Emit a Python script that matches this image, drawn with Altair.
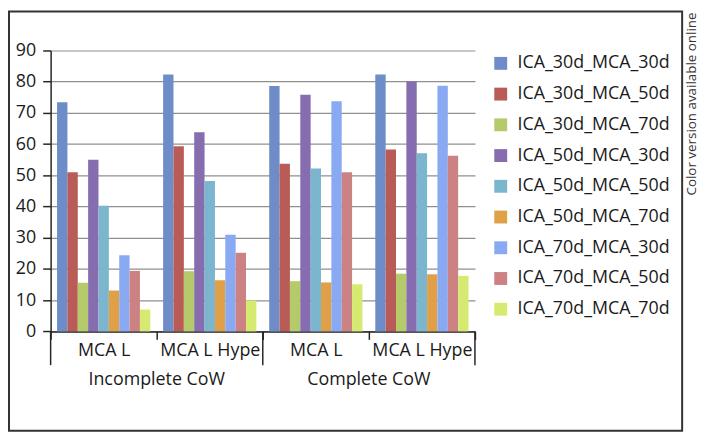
import altair as alt
import pandas as pd

# ---- data ----
outer_groups = ["Incomplete CoW", "Incomplete CoW", "Complete CoW", "Complete CoW"]
inner_groups = ["MCA L", "MCA L Hype", "MCA L", "MCA L Hype"]

series_names = [
    "ICA_30d_MCA_30d", "ICA_30d_MCA_50d", "ICA_30d_MCA_70d",
    "ICA_50d_MCA_30d", "ICA_50d_MCA_50d", "ICA_50d_MCA_70d",
    "ICA_70d_MCA_30d", "ICA_70d_MCA_50d", "ICA_70d_MCA_70d",
]

ica30_mca30 = [73.4, 82.3, 78.6, 82.3]
ica30_mca50 = [51.0, 59.3, 53.7, 58.3]
ica30_mca70 = [15.6, 19.3, 16.1, 18.5]
ica50_mca30 = [55.0, 63.8, 75.8, 80.1]
ica50_mca50 = [40.3, 48.2, 52.2, 57.1]
ica50_mca70 = [13.1, 16.4, 15.7, 18.3]
ica70_mca30 = [24.4, 31.0, 73.7, 78.7]
ica70_mca50 = [19.4, 25.2, 51.0, 56.3]
ica70_mca70 = [7.0, 9.9, 15.1, 17.8]

series_values = [ica30_mca30, ica30_mca50, ica30_mca70,
                 ica50_mca30, ica50_mca50, ica50_mca70,
                 ica70_mca30, ica70_mca50, ica70_mca70]

colors = ["#6d8cc8", "#b95c57", "#b4ca6b", "#866db0", "#7bb5ce",
          "#e0a048", "#89aaf2", "#cc8282", "#d6ea72"]

y_ticks = list(range(0, 91, 10))
side_note = "Color version available online"

# ---- tables ----
rows = []
for s, vals in zip(series_names, series_values):
    for o, i, v in zip(outer_groups, inner_groups, vals):
        rows.append({"key": f"{o}|{i}", "outer": o, "inner": i, "series": s, "value": v})
df = pd.DataFrame(rows)
keys = [f"{o}|{i}" for o, i in zip(outer_groups, inner_groups)]
outer_unique = list(dict.fromkeys(outer_groups))

W, H = 428, 283.4
FONT = "Open Sans"
DARK = "#262626"

bars = alt.Chart(df).mark_bar().encode(
    x=alt.X("key:N", sort=keys,
            scale=alt.Scale(paddingInner=0, paddingOuter=0),
            axis=alt.Axis(title=None, labelExpr="split(datum.label, '|')[1]",
                          labelAngle=0, tickBand="extent", tickSize=8,
                          tickColor=DARK, tickWidth=1.5, domainColor=DARK,
                          domainWidth=1.5, labelFontSize=18, labelFont=FONT,
                          labelColor="#1a1a1a", labelPadding=2, grid=False,
                          labelOverlap=False)),
    xOffset=alt.XOffset("series:N", sort=series_names,
                        scale=alt.Scale(paddingOuter=0.62, paddingInner=0)),
    y=alt.Y("value:Q", scale=alt.Scale(domain=[0, 90], nice=False),
            axis=alt.Axis(title=None, values=y_ticks, grid=True,
                          gridColor="#8f8f8f", gridWidth=1.2,
                          domainColor=DARK, domainWidth=1.5,
                          tickColor=DARK, tickWidth=1.5, tickSize=8,
                          labelFontSize=18, labelFont=FONT, labelColor="#1a1a1a",
                          labelPadding=7)),
    color=alt.Color("series:N", sort=series_names,
                    scale=alt.Scale(domain=series_names, range=colors),
                    legend=alt.Legend(orient="none", legendX=445, legendY=4,
                                      title=None, symbolType="square",
                                      symbolSize=169, symbolStrokeWidth=0,
                                      labelFontSize=18, labelFont=FONT,
                                      labelColor="#1a1a1a", rowPadding=13,
                                      labelOffset=8, padding=0)),
)

outer_text = alt.Chart(pd.DataFrame({"outer": outer_unique})).mark_text(
    fontSize=18, font=FONT, baseline="middle", color="#1a1a1a"
).encode(
    x=alt.X("outer:N", sort=outer_unique, axis=None,
            scale=alt.Scale(paddingInner=0, paddingOuter=0)),
    y=alt.value(H + 49.3),
    text="outer:N",
)

seps = alt.Chart(pd.DataFrame({"pos": list(range(len(outer_unique) + 1))})).mark_rule(
    color=DARK, strokeWidth=1.5
).encode(
    x=alt.X("pos:Q", axis=None,
            scale=alt.Scale(domain=[0, len(outer_unique)], nice=False, zero=False)),
    y=alt.value(H),
    y2=alt.value(H + 34),
)

frame = alt.Chart(pd.DataFrame({"a": [0]})).mark_rect(
    fillOpacity=0, stroke="#333333", strokeWidth=2
).encode(
    x=alt.value(-42), x2=alt.value(637),
    y=alt.value(-39.3), y2=alt.value(383.5),
)

side = alt.Chart(pd.DataFrame({"t": [side_note]})).mark_text(
    angle=270, fontSize=13.5, font=FONT, color="#333333",
    baseline="middle", align="center"
).encode(
    x=alt.value(647), y=alt.value(54), text="t:N",
)

chart = alt.layer(frame, bars, outer_text, seps, side).resolve_scale(
    x="independent"
).properties(
    width=W, height=H, padding=0
).configure_view(stroke=None)

chart.save("out.html", embed_options={"renderer": "svg", "actions": False})
